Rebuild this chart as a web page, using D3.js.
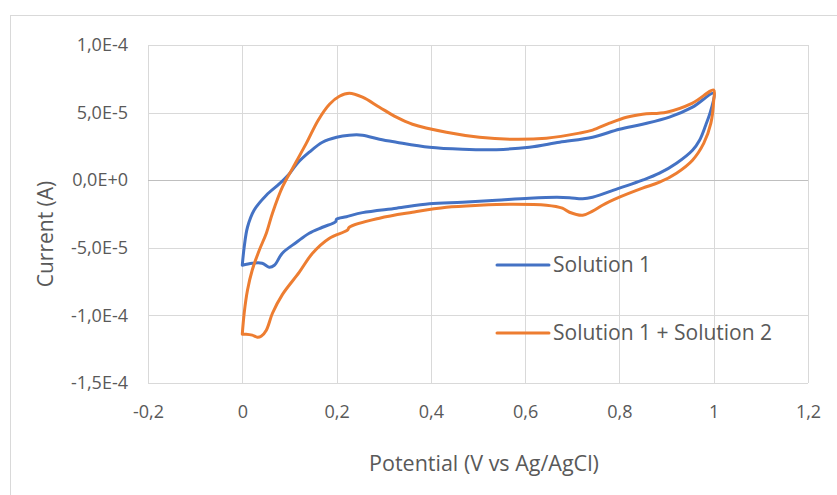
<!DOCTYPE html>
<html>
<head>
<meta charset="utf-8">
<script src="https://cdn.jsdelivr.net/npm/d3@7"></script>
<style>
  body { margin: 0; background: #fff; }
  svg { display: block; font-family: "Open Sans", sans-serif; }
</style>
</head>
<body>
<div id="chart"></div>
<script>
// Cyclic voltammograms, current in microamps
const solution1Potential = [0.000, 0.004, 0.011, 0.025, 0.051, 0.079, 0.100, 0.117, 0.142, 0.170, 0.200, 0.227, 0.255, 0.291, 0.327, 0.397, 0.467, 0.539, 0.609, 0.673, 0.743, 0.800, 0.849, 0.906, 0.955, 1.000,
  0.994, 0.983, 0.970, 0.955, 0.921, 0.885, 0.849, 0.800, 0.743, 0.722, 0.694, 0.667, 0.609, 0.539, 0.467, 0.397, 0.327, 0.255, 0.221, 0.200, 0.198, 0.170, 0.142, 0.115, 0.085, 0.068, 0.057, 0.042, 0.021, 0.000];
const solution1Current = [-62.9, -49.6, -34.8, -22.2, -11.1, -2.6, 4.8, 12.6, 20.7, 28.1, 31.8, 33.3, 33.3, 30.3, 28.1, 24.4, 22.9, 22.6, 24.4, 28.1, 31.8, 37.7, 41.4, 46.6, 54.0, 64.3,
  51.8, 40.7, 29.6, 22.2, 12.6, 5.2, 0.0, -5.9, -12.6, -13.7, -12.9, -12.6, -13.3, -14.8, -16.3, -17.4, -20.7, -24.0, -27.0, -28.8, -30.7, -34.8, -39.2, -45.9, -54.0, -62.9, -64.3, -61.4, -61.4, -62.9];

const solution2Potential = [0.000, 0.004, 0.011, 0.021, 0.036, 0.051, 0.064, 0.085, 0.106, 0.136, 0.161, 0.185, 0.206, 0.227, 0.255, 0.291, 0.327, 0.361, 0.433, 0.503, 0.573, 0.645, 0.715, 0.743, 0.779, 0.815, 0.849, 0.900, 0.955, 1.000,
  1.000, 0.994, 0.979, 0.955, 0.921, 0.885, 0.849, 0.800, 0.764, 0.743, 0.722, 0.694, 0.679, 0.645, 0.573, 0.503, 0.433, 0.361, 0.291, 0.227, 0.223, 0.185, 0.149, 0.121, 0.085, 0.064, 0.051, 0.040, 0.032, 0.021, 0.008, 0.000];
const solution2Current = [-113.9, -98.4, -81.4, -66.6, -51.8, -39.2, -24.4, -5.2, 8.4, 27.4, 44.4, 56.2, 62.1, 64.3, 61.4, 54.0, 46.6, 41.4, 35.5, 31.8, 30.3, 31.1, 34.8, 37.0, 42.2, 46.6, 48.8, 50.3, 57.0, 66.6,
  59.2, 42.2, 27.4, 14.8, 5.2, -1.5, -5.9, -12.6, -18.5, -22.9, -25.9, -23.7, -20.7, -18.5, -17.8, -18.5, -20.0, -23.7, -28.1, -34.8, -37.0, -42.9, -54.0, -68.0, -84.6, -98.4, -110.9, -115.4, -116.1, -114.6, -113.9, -113.9];

const seriesNames = ["Solution 1", "Solution 1 + Solution 2"];
const seriesColors = ["#4472C4", "#ED7D31"];
const xTicks = [-0.2, 0, 0.2, 0.4, 0.6, 0.8, 1.0, 1.2];
const yTicks = [-1.5e-4, -1.0e-4, -5e-5, 0, 5e-5, 1.0e-4];

const width = 837, height = 495;
const margin = {left: 148, right: 29, top: 45, bottom: 112};

const svg = d3.select("#chart").append("svg")
  .attr("width", width)
  .attr("height", height);

// chart area border (right and bottom fall outside the picture)
svg.append("rect")
  .attr("x", 10.5).attr("y", 15.5)
  .attr("width", 900).attr("height", 600)
  .attr("fill", "none")
  .attr("stroke", "#d9d9d9");

const x = d3.scaleLinear().domain([-0.2, 1.2]).range([margin.left, width - margin.right]);
const y = d3.scaleLinear().domain([-1.5e-4, 1.0e-4]).range([height - margin.bottom, margin.top]);

const fmtX = d => String(+d.toFixed(1)).replace(".", ",");
const fmtY = d => {
  if (d === 0) return "0,0E+0";
  const e = Math.floor(Math.log10(Math.abs(d)));
  const m = d / Math.pow(10, e);
  return m.toFixed(1).replace(".", ",") + "E" + e;
};

// gridlines
const grid = svg.append("g").attr("stroke-width", 1);
grid.selectAll(".vg").data(xTicks).enter().append("line")
  .attr("x1", d => Math.round(x(d)) + 0.5).attr("x2", d => Math.round(x(d)) + 0.5)
  .attr("y1", y(1.0e-4)).attr("y2", y(-1.5e-4))
  .attr("stroke", "#d9d9d9");
grid.selectAll(".hg").data(yTicks).enter().append("line")
  .attr("x1", x(-0.2)).attr("x2", x(1.2))
  .attr("y1", d => Math.round(y(d)) + 0.5).attr("y2", d => Math.round(y(d)) + 0.5)
  .attr("stroke", d => d === 0 ? "#bfbfbf" : "#d9d9d9");

// axes (labels only)
const xAxis = svg.append("g")
  .attr("transform", `translate(0,${y(-1.5e-4) + 19})`)
  .call(d3.axisBottom(x).tickValues(xTicks).tickFormat(fmtX).tickSize(0));
const yAxis = svg.append("g")
  .attr("transform", `translate(${x(-0.2) - 20},0)`)
  .call(d3.axisLeft(y).tickValues(yTicks).tickFormat(fmtY).tickSize(0));
[xAxis, yAxis].forEach(a => {
  a.select(".domain").remove();
  a.selectAll("text")
    .attr("fill", "#595959")
    .style("font-family", "'Open Sans', sans-serif")
    .style("font-size", "18px");
});
yAxis.selectAll("text").attr("x", 0);

// axis titles
svg.append("text")
  .attr("x", (x(-0.2) + x(1.2)) / 2 + 6).attr("y", 471)
  .attr("text-anchor", "middle")
  .attr("fill", "#595959")
  .style("font-size", "21.5px")
  .text("Potential (V vs Ag/AgCl)");
svg.append("text")
  .attr("transform", "translate(53,234) rotate(-90)")
  .attr("text-anchor", "middle")
  .attr("fill", "#595959")
  .style("font-size", "21px")
  .text("Current (A)");

// curves
const series = [
  solution1Potential.map((v, i) => [v, solution1Current[i] * 1e-6]),
  solution2Potential.map((v, i) => [v, solution2Current[i] * 1e-6])
];
const line = d3.line()
  .x(d => x(d[0]))
  .y(d => y(d[1]))
  .curve(d3.curveCatmullRom.alpha(0.5));

svg.append("g").selectAll("path").data(series).enter().append("path")
  .attr("d", line)
  .attr("fill", "none")
  .attr("stroke", (d, i) => seriesColors[i])
  .attr("stroke-width", 3)
  .attr("stroke-linejoin", "round")
  .attr("stroke-linecap", "round");

// legend
const legendY = [265, 333];
const legend = svg.append("g");
legend.selectAll("line").data(seriesNames).enter().append("line")
  .attr("x1", 497).attr("x2", 549)
  .attr("y1", (d, i) => legendY[i]).attr("y2", (d, i) => legendY[i])
  .attr("stroke", (d, i) => seriesColors[i])
  .attr("stroke-width", 3)
  .attr("stroke-linecap", "round");
legend.selectAll("text").data(seriesNames).enter().append("text")
  .attr("x", 553)
  .attr("y", (d, i) => legendY[i])
  .attr("dy", "0.35em")
  .attr("fill", "#595959")
  .style("font-size", "21px")
  .text(d => d);
</script>
</body>
</html>
